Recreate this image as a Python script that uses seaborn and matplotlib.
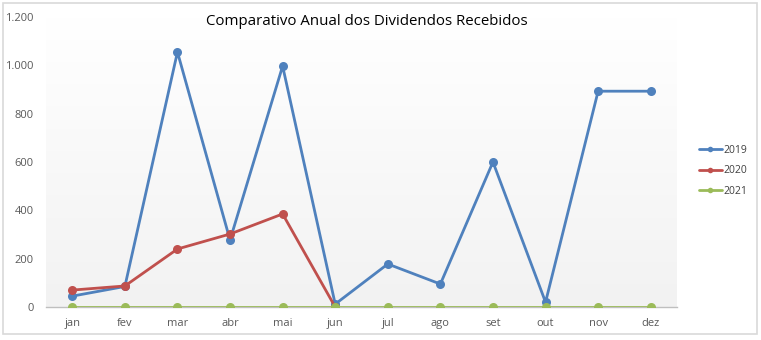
import numpy as np
import pandas as pd
import matplotlib
matplotlib.use("Agg")
import matplotlib.pyplot as plt
from matplotlib.patches import Rectangle
from matplotlib.colors import LinearSegmentedColormap
import seaborn as sns

months = ["jan", "fev", "mar", "abr", "mai", "jun", "jul", "ago", "set", "out", "nov", "dez"]
years = ["2019", "2020", "2021"]
div_2019 = [45, 85, 1055, 277, 997, 12, 178, 95, 600, 20, 893, 893]
div_2020 = [70, 87, 240, 302, 385, 0, np.nan, np.nan, np.nan, np.nan, np.nan, np.nan]
div_2021 = [0, 0, 0, 0, 0, 0, 0, 0, 0, 0, 0, 0]
y_ticks = [0, 200, 400, 600, 800, 1000, 1200]
y_tick_labels = ["0", "200", "400", "600", "800", "1.000", "1.200"]
colors = ["#4F81BD", "#C0504D", "#9BBB59"]

frames = []
for year, vals in zip(years, [div_2019, div_2020, div_2021]):
    frames.append(pd.DataFrame({"mes": range(len(months)), "valor": vals, "ano": year}))
df = pd.concat(frames, ignore_index=True)

sns.set_theme(style="white")
plt.rcParams["font.family"] = ["Open Sans", "DejaVu Sans"]

fig = plt.figure(figsize=(7.61, 3.40), dpi=100)
fig.patch.set_facecolor("white")
fig.patches.append(Rectangle((3 / 761, 6 / 340), 754 / 761, 331 / 340, transform=fig.transFigure,
                             fill=False, edgecolor="#D9D9D9", linewidth=1.2))

ax = fig.add_axes([46 / 761, 33 / 340, 631 / 761, 290 / 340])

# soft vertical gradient behind the plot area: white at the top, light grey at the bottom
grad = np.linspace(0.0, 1.0, 256).reshape(-1, 1)
bg_cmap = LinearSegmentedColormap.from_list("bg", ["#F2F2F2", "#FFFFFF"])
ax.imshow(grad, extent=(-0.5, 11.5, 0, 1200), aspect="auto", cmap=bg_cmap,
          origin="lower", zorder=0, vmin=0, vmax=1)

sns.lineplot(data=df, x="mes", y="valor", hue="ano", palette=colors, marker="o",
             markersize=6.5, markeredgewidth=0, linewidth=2.0, ax=ax, sort=False, zorder=3)

ax.set_xlim(-0.5, 11.5)
ax.set_ylim(0, 1200)
ax.set_xticks(range(len(months)))
ax.set_xticklabels(months)
ax.set_yticks(y_ticks)
ax.set_yticklabels(y_tick_labels)
ax.set_xlabel("")
ax.set_ylabel("")
ax.tick_params(axis="both", labelsize=8, colors="#595959", length=0, pad=8)
ax.tick_params(axis="y", pad=9)

# category separators on the horizontal axis
ax.set_xticks(np.arange(-0.5, 12, 1), minor=True)
ax.tick_params(axis="x", which="minor", length=4, color="#BFBFBF", direction="out")

for side in ["top", "right", "left"]:
    ax.spines[side].set_visible(False)
ax.spines["bottom"].set_color("#BFBFBF")
ax.spines["bottom"].set_linewidth(1)
ax.set_facecolor("none")
ax.grid(False)

fig.text(0.482, 0.938, "Comparativo Anual dos Dividendos Recebidos", ha="center", va="center",
         fontsize=10.8, color="#000000")

handles, labels = ax.get_legend_handles_labels()
for h in handles:
    h.set_markersize(4)
leg = ax.legend(handles, labels, loc="center left", bbox_to_anchor=(1.02, 0.47), frameon=False,
                fontsize=7.5, handlelength=2.2, handletextpad=0.1, labelspacing=0.9)
for t in leg.get_texts():
    t.set_color("#404040")

fig.savefig("out.png", dpi=100, facecolor="white")
